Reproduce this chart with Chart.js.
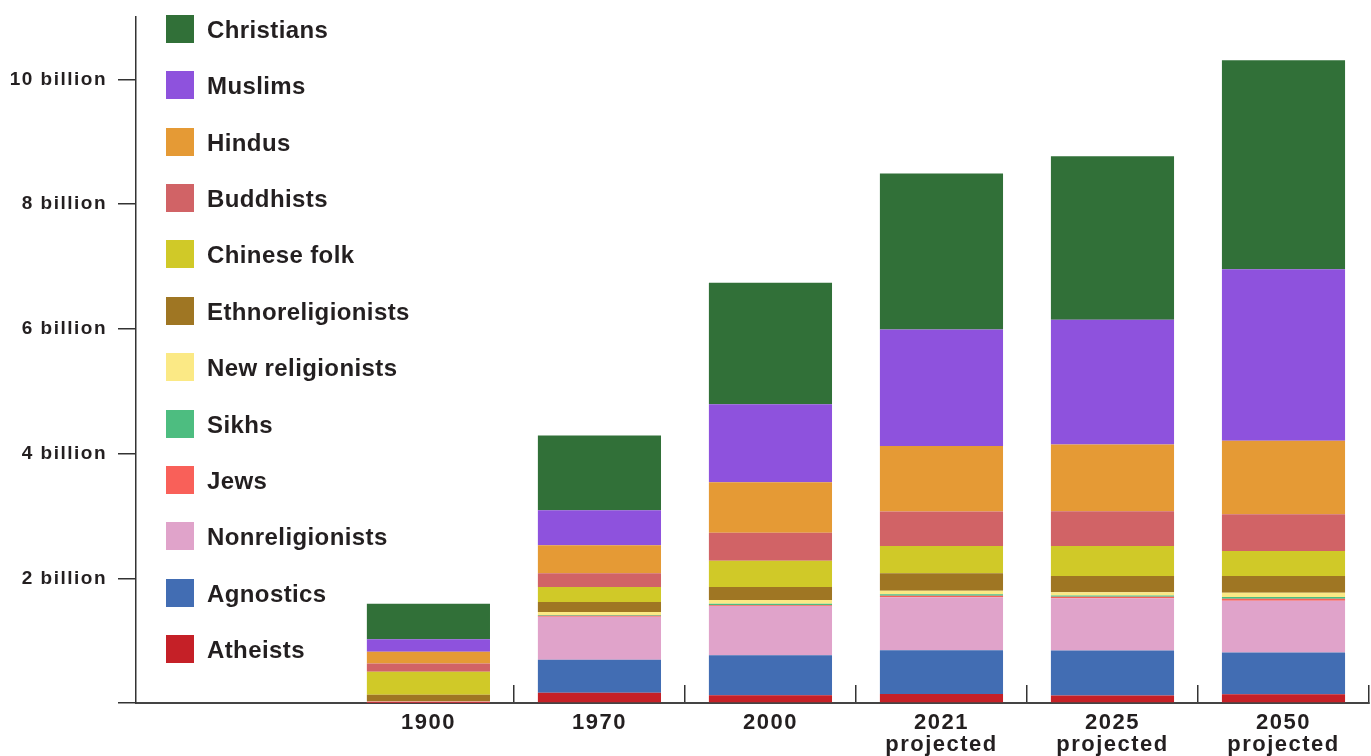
<!DOCTYPE html>
<html>
<head>
<meta charset="utf-8">
<script src="https://cdn.jsdelivr.net/npm/chart.js@4"></script>
<style>
    body { margin: 0; background: #fff; }
    #wrap { position: relative; width: 1371px; height: 756px; }
    #legend {
        position: absolute; left: 166px; top: 15px;
        font-family: "Liberation Sans", Arial, sans-serif; font-weight: bold;
        font-size: 24px; letter-spacing: 0.4px; color: #231f20;
    }
    #legend .item { display: flex; align-items: center; height: 28px; margin-bottom: 28.36px; }
    #legend .item span { position: relative; top: 1px; }
    #legend .box { width: 28px; height: 28px; margin-right: 13px; }
</style>
</head>
<body>
<div id="wrap">
    <canvas id="myChart"></canvas>
    <div id="legend"></div>
</div>
<script>
// years (x axis), values in billions of people
const yearLabels = [['1900'], ['1970'], ['2000'], ['2021', 'projected'], ['2025', 'projected'], ['2050', 'projected']];

const atheists        = [0.001, 0.165, 0.125, 0.146, 0.12, 0.14];
const agnostics       = [0.004, 0.53, 0.64, 0.70, 0.72, 0.67];
const nonreligionists = [0.004, 0.69, 0.79, 0.85, 0.84, 0.83];
const jews            = [0.015, 0.015, 0.014, 0.025, 0.025, 0.03];
const sikhs           = [0.003, 0.011, 0.021, 0.022, 0.018, 0.03];
const newReligionists = [0.006, 0.05, 0.06, 0.056, 0.053, 0.067];
const ethnoreligionists = [0.10, 0.16, 0.21, 0.28, 0.26, 0.27];
const chineseFolk     = [0.37, 0.24, 0.42, 0.44, 0.48, 0.40];
const buddhists       = [0.13, 0.22, 0.45, 0.55, 0.56, 0.59];
const hindus          = [0.19, 0.45, 0.81, 1.05, 1.07, 1.18];
const muslims         = [0.20, 0.56, 1.25, 1.87, 2.00, 2.75];
const christians      = [0.57, 1.20, 1.95, 2.50, 2.62, 3.35];

const yTicks = [0, 2, 4, 6, 8, 10];

// bottom of the stack first
const series = [
    ['Atheists', atheists, '#c52027'],
    ['Agnostics', agnostics, '#426db3'],
    ['Nonreligionists', nonreligionists, '#e0a3ca'],
    ['Jews', jews, '#f96059'],
    ['Sikhs', sikhs, '#4dbd80'],
    ['New religionists', newReligionists, '#fbe985'],
    ['Ethnoreligionists', ethnoreligionists, '#9f7623'],
    ['Chinese folk', chineseFolk, '#d0c928'],
    ['Buddhists', buddhists, '#d16366'],
    ['Hindus', hindus, '#e59a35'],
    ['Muslims', muslims, '#8e52dd'],
    ['Christians', christians, '#317038'],
];

const datasets = series.map(function (s) {
    return {
        label: s[0],
        data: s[1].map(function (v, i) { return {x: i + 0.5, y: v}; }),
        backgroundColor: s[2],
        borderWidth: 0
    };
});

// legend, top item is the top of the stack
const legendEl = document.getElementById('legend');
series.slice().reverse().forEach(function (s) {
    const item = document.createElement('div');
    item.className = 'item';
    item.innerHTML = '<div class="box" style="background:' + s[2] + '"></div><span>' + s[0] + '</span>';
    legendEl.appendChild(item);
});

const spacing = {
    id: 'spacing',
    beforeUpdate(chart) { chart.ctx.letterSpacing = '1.5px'; },
    beforeDraw(chart) { chart.ctx.letterSpacing = '1.5px'; }
};

const font = 'Liberation Sans, Arial, sans-serif';
const ctx = document.getElementById('myChart');
new Chart(ctx, {
    type: 'bar',
    data: { datasets: datasets },
    plugins: [spacing],
    options: {
        responsive: true,
        maintainAspectRatio: false,
        animation: false,
        layout: { padding: { top: 17, right: 2, left: 0, bottom: 0 } },
        plugins: {
            legend: { display: false },
            tooltip: { mode: 'index', intersect: false }
        },
        scales: {
            x: {
                type: 'linear',
                stacked: true,
                min: -1.21,
                max: 6,
                offset: false,
                afterBuildTicks: function (scale) {
                    scale.ticks = yearLabels.map(function (l, i) { return {value: i + 0.5}; });
                },
                afterFit: function (scale) { scale.height = 53; },
                grid: {
                    offset: true,
                    drawOnChartArea: false,
                    tickLength: -18,
                    lineWidth: 1.5,
                    color: function (c) { return c.index === 0 ? 'rgba(0,0,0,0)' : '#333'; }
                },
                border: { color: '#444', width: 2 },
                ticks: {
                    padding: 27,
                    color: '#231f20',
                    maxRotation: 0,
                    font: { family: font, weight: 'bold', size: 22, lineHeight: 1.0 },
                    callback: function (value, index) { return yearLabels[index]; }
                }
            },
            y: {
                stacked: true,
                min: 0,
                max: 11,
                afterBuildTicks: function (scale) {
                    scale.ticks = yTicks.map(function (v) { return {value: v}; });
                },
                afterFit: function (scale) {
                    scale.width = 136;
                    scale.paddingTop = 0;
                    scale.paddingBottom = 0;
                },
                grid: { drawOnChartArea: false, tickLength: 18, lineWidth: 1.5, color: '#333' },
                border: { color: '#333', width: 1.5 },
                ticks: {
                    padding: 11,
                    color: '#231f20',
                    font: { family: font, weight: 'bold', size: 19 },
                    callback: function (value) { return value === 0 ? '' : value + ' billion'; }
                }
            }
        }
    }
});
</script>
</body>
</html>
